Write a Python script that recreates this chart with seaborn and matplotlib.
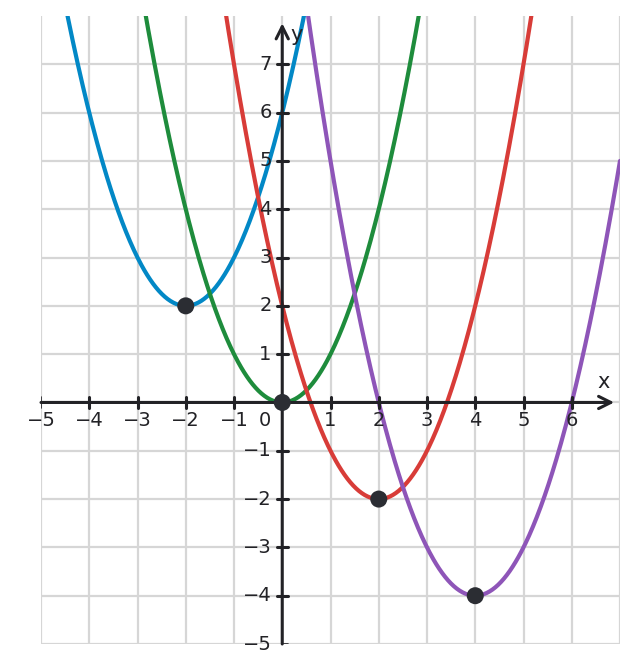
import numpy as np
import pandas as pd
import matplotlib
matplotlib.use("Agg")
import matplotlib.pyplot as plt
import seaborn as sns

# parabola vertices (h, k): y = (x - h)^2 + k
names = ["blue", "green", "red", "purple"]
vertex_x = [-2, 0, 2, 4]
vertex_y = [2, 0, -2, -4]
colors = ["#0288c6", "#1e8c3c", "#d83c38", "#8e55b8"]

x_ticks = [-5, -4, -3, -2, -1, 1, 2, 3, 4, 5, 6]
y_ticks = [-5, -4, -3, -2, -1, 1, 2, 3, 4, 5, 6, 7]

ink = "#222226"

sns.set_style("white")
plt.rcParams["font.family"] = ["DejaVu Sans"]

fig = plt.figure(figsize=(6.38, 6.72), dpi=100)
ax = fig.add_axes([41 / 638, 28 / 672, 579 / 638, 628 / 672])
ax.set_xlim(-5, 7)
ax.set_ylim(-5, 8)

# grid
for gx in range(-5, 8):
    ax.axvline(gx, color="#d6d6d6", lw=1.6, zorder=0)
for gy in range(-5, 8):
    ax.axhline(gy, color="#d6d6d6", lw=1.6, zorder=0)

# curves
xs = np.linspace(-5, 7, 600)
rows = []
for n, h, k in zip(names, vertex_x, vertex_y):
    for xv in xs:
        rows.append({"name": n, "x": xv, "y": (xv - h) ** 2 + k})
df = pd.DataFrame(rows)
df = df[df["y"] < 8.5]
for n, c in zip(names, colors):
    sns.lineplot(data=df[df["name"] == n], x="x", y="y", color=c, lw=3.0,
                 ax=ax, zorder=3, sort=False, estimator=None)

pts = pd.DataFrame({"x": vertex_x, "y": vertex_y})
sns.scatterplot(data=pts, x="x", y="y", color="#2b2d33", s=150,
                edgecolor="none", ax=ax, zorder=5)

# axes with arrows
for s in ax.spines.values():
    s.set_visible(False)
ax.annotate("", xy=(6.88, 0), xytext=(-5.0, 0),
            arrowprops=dict(arrowstyle="->", lw=2.2, color=ink,
                            mutation_scale=22, shrinkA=0, shrinkB=0), zorder=4)
ax.annotate("", xy=(0, 7.85), xytext=(0, -5.0),
            arrowprops=dict(arrowstyle="->", lw=2.2, color=ink,
                            mutation_scale=22, shrinkA=0, shrinkB=0), zorder=4)

# tick marks
for tx in x_ticks:
    w = 1.2 if tx == -5 else 2.2
    ax.plot([tx, tx], [-0.11, 0.11], color=ink, lw=w, zorder=4)
    ax.text(tx, -0.38, "\u2212%d" % -tx if tx < 0 else str(tx),
            ha="center", va="center", fontsize=14, color=ink)
for ty in y_ticks:
    if ty == -5:
        ax.plot([0, 0.11], [ty, ty], color=ink, lw=1.2, zorder=4)
    else:
        ax.plot([-0.11, 0.11], [ty, ty], color=ink, lw=2.2, zorder=4)
    ax.text(-0.22, ty, "\u2212%d" % -ty if ty < 0 else str(ty),
            ha="right", va="center", fontsize=14, color=ink)
ax.text(-0.35, -0.38, "0", ha="center", va="center", fontsize=14, color=ink)
ax.text(6.67, 0.42, "x", ha="center", va="center", fontsize=15, color=ink)
ax.text(0.3, 7.6, "y", ha="center", va="center", fontsize=15, color=ink)

ax.set_xticks([])
ax.set_yticks([])
ax.set_xlabel("")
ax.set_ylabel("")

fig.savefig("out.png", dpi=100, facecolor="white")
